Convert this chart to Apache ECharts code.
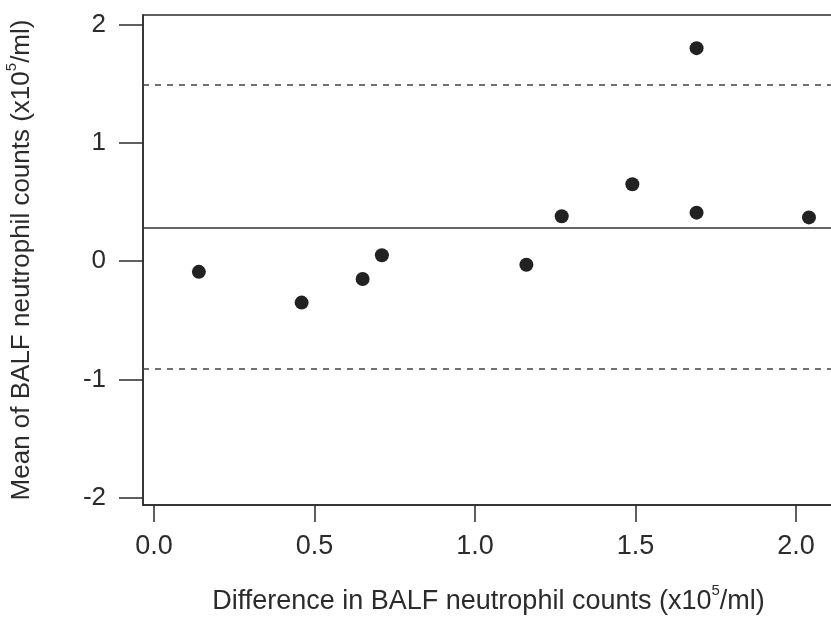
<!DOCTYPE html>
<html>
<head>
<meta charset="utf-8">
<title>BALF neutrophil counts</title>
<script src="https://cdn.jsdelivr.net/npm/echarts@6/dist/echarts.min.js"></script>
<style>
html, body { margin: 0; padding: 0; background: #fff; }
#main { width: 831px; height: 621px; }
</style>
</head>
<body>
<div id="main"></div>
<script>
// values
const diffs = [0.14, 0.46, 0.65, 0.71, 1.16, 1.27, 1.49, 1.69, 1.69, 2.04];
const means = [-0.09, -0.35, -0.15, 0.05, -0.03, 0.38, 0.65, 1.80, 0.41, 0.37];
const meanLine = 0.28;
const limitLines = [1.49, -0.91];
const xTicks = [0, 0.5, 1, 1.5, 2];
const yTicks = [-2, -1, 0, 1, 2];

const ink = "#2b2b2b";
const font = "Liberation Sans";

const points = diffs.map((d, i) => [d, means[i]]);

const supStyle = {
	fontSize: 15,
	fontFamily: font,
	color: ink,
	lineHeight: 16,
	verticalAlign: "top"
};

const chart = echarts.init(document.getElementById("main"));
const option = {
	animation: false,
	grid: {
		left: 143,
		right: -3,
		top: 15,
		bottom: 116,
		outerBoundsMode: "none",
		show: true,
		borderColor: ink,
		borderWidth: 1.5
	},
	xAxis: {
		type: "value",
		min: -0.034,
		max: 2.118,
		name: "{t|Difference in BALF neutrophil counts (x10}{sup|5}{t|/ml)}",
		nameLocation: "middle",
		nameGap: 78,
		nameTextStyle: {
			color: ink,
			fontFamily: font,
			fontSize: 27,
			rich: {
				t: { fontSize: 27, fontFamily: font, color: ink, lineHeight: 32, verticalAlign: "bottom" },
				sup: supStyle
			}
		},
		splitLine: { show: false },
		axisLine: { show: true, onZero: false, lineStyle: { color: ink, width: 1.5 } },
		axisTick: {
			show: true,
			length: 17,
			customValues: xTicks,
			lineStyle: { color: ink, width: 1.5 }
		},
		axisLabel: {
			customValues: xTicks,
			formatter: v => v.toFixed(1),
			color: ink,
			fontFamily: font,
			fontSize: 27,
			margin: 28
		}
	},
	yAxis: {
		type: "value",
		min: -2.06,
		max: 2.08,
		name: "{t|Mean of BALF neutrophil counts (x10}{sup|5}{t|/ml)}",
		nameLocation: "middle",
		nameGap: 108,
		nameTextStyle: {
			color: ink,
			fontFamily: font,
			fontSize: 26,
			rich: {
				t: { fontSize: 26, fontFamily: font, color: ink, lineHeight: 31, verticalAlign: "bottom" },
				sup: supStyle
			}
		},
		splitLine: { show: false },
		axisLine: { show: true, onZero: false, lineStyle: { color: ink, width: 1.5 } },
		axisTick: {
			show: true,
			length: 24,
			customValues: yTicks,
			lineStyle: { color: ink, width: 1.5 }
		},
		axisLabel: {
			customValues: yTicks,
			color: ink,
			fontFamily: font,
			fontSize: 26,
			margin: 37
		}
	},
	series: [
		{
			type: "scatter",
			data: points,
			symbol: "circle",
			symbolSize: 14,
			itemStyle: { color: "#222", opacity: 1 },
			markLine: {
				silent: true,
				symbol: ["none", "none"],
				label: { show: false },
				data: [
					{ yAxis: meanLine, lineStyle: { type: "solid", color: "#333", width: 1.5 } },
					{ yAxis: limitLines[0], lineStyle: { type: [6, 6], color: "#444", width: 1.5 } },
					{ yAxis: limitLines[1], lineStyle: { type: [6, 6], color: "#444", width: 1.5 } }
				]
			}
		}
	]
};
chart.setOption(option);
</script>
</body>
</html>
